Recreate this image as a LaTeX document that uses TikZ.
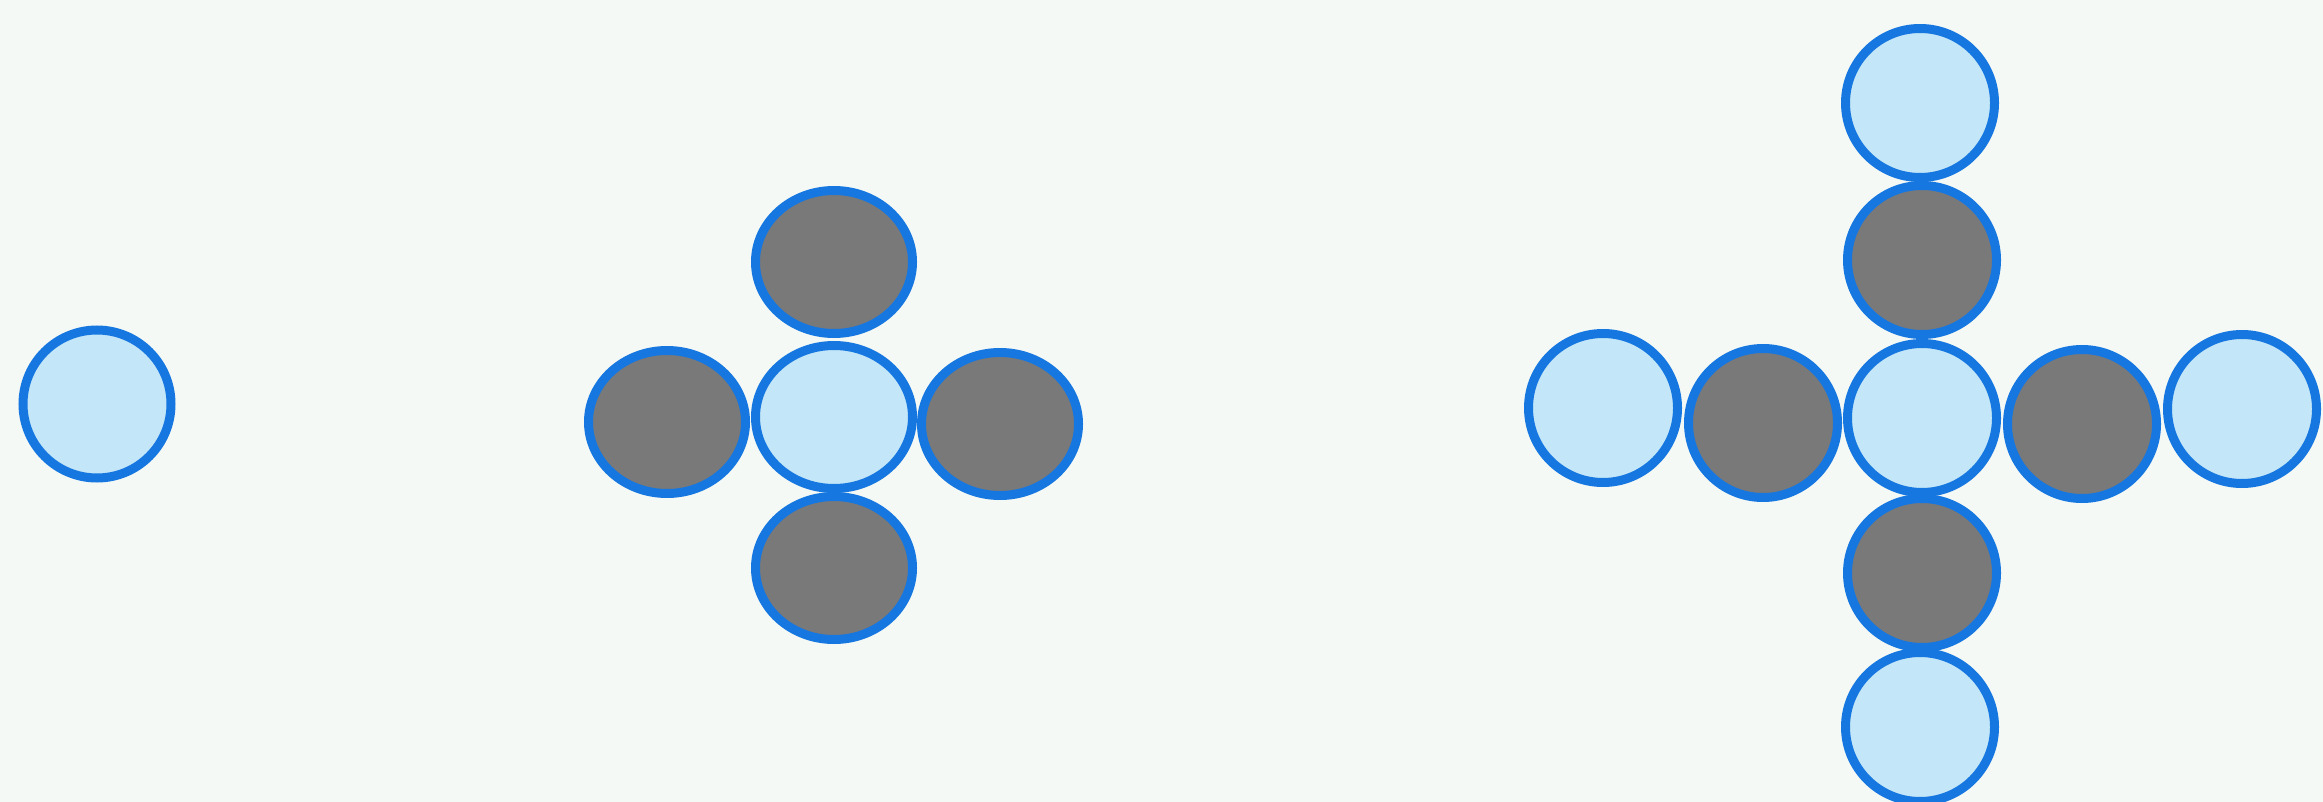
\documentclass[tikz,border=0pt]{standalone}
\usetikzlibrary{shapes.geometric}
\definecolor{bgc}{HTML}{F4F9F5}
\definecolor{ringc}{HTML}{1777E0}
\definecolor{lightc}{HTML}{C3E6F8}
\definecolor{darkc}{HTML}{797979}
\tikzset{
  ball/.style={ellipse, draw=ringc, line width=4.5pt, inner sep=0pt, outer sep=0pt},
  lightball/.style={ball, fill=lightc},
  darkball/.style={ball, fill=darkc},
  roundsz/.style={minimum width=74.5pt, minimum height=74.5pt},
  widesz/.style={minimum width=78.5pt, minimum height=71.5pt},
}
\begin{document}
\begin{tikzpicture}[x=0.5pt,y=-0.5pt]
\fill[bgc] (0,0) rectangle (2323,802);
\useasboundingbox (0,0) rectangle (2323,802);
% single
\node[lightball, minimum width=74pt, minimum height=74pt] (s) at (97,404) {};
% middle cross
\node[lightball, widesz] (mc) at (834,417) {};
\node[darkball, widesz] (mt) at (834,262) {};
\node[darkball, widesz] (mb) at (834,568) {};
\node[darkball, widesz] (ml) at (667,422) {};
\node[darkball, widesz] (mr) at (1000,424) {};
% right cross
\node[lightball, roundsz] (rc) at (1922,418) {};
\node[darkball, roundsz] (rt1) at (1922,260) {};
\node[lightball, roundsz] (rt2) at (1920,103) {};
\node[darkball, roundsz] (rb1) at (1922,573) {};
\node[lightball, roundsz] (rb2) at (1920,727) {};
\node[darkball, roundsz] (rl1) at (1763,423) {};
\node[lightball, roundsz] (rl2) at (1603,408) {};
\node[darkball, roundsz] (rr1) at (2082,424) {};
\node[lightball, roundsz] (rr2) at (2242,409) {};
\end{tikzpicture}
\end{document}
